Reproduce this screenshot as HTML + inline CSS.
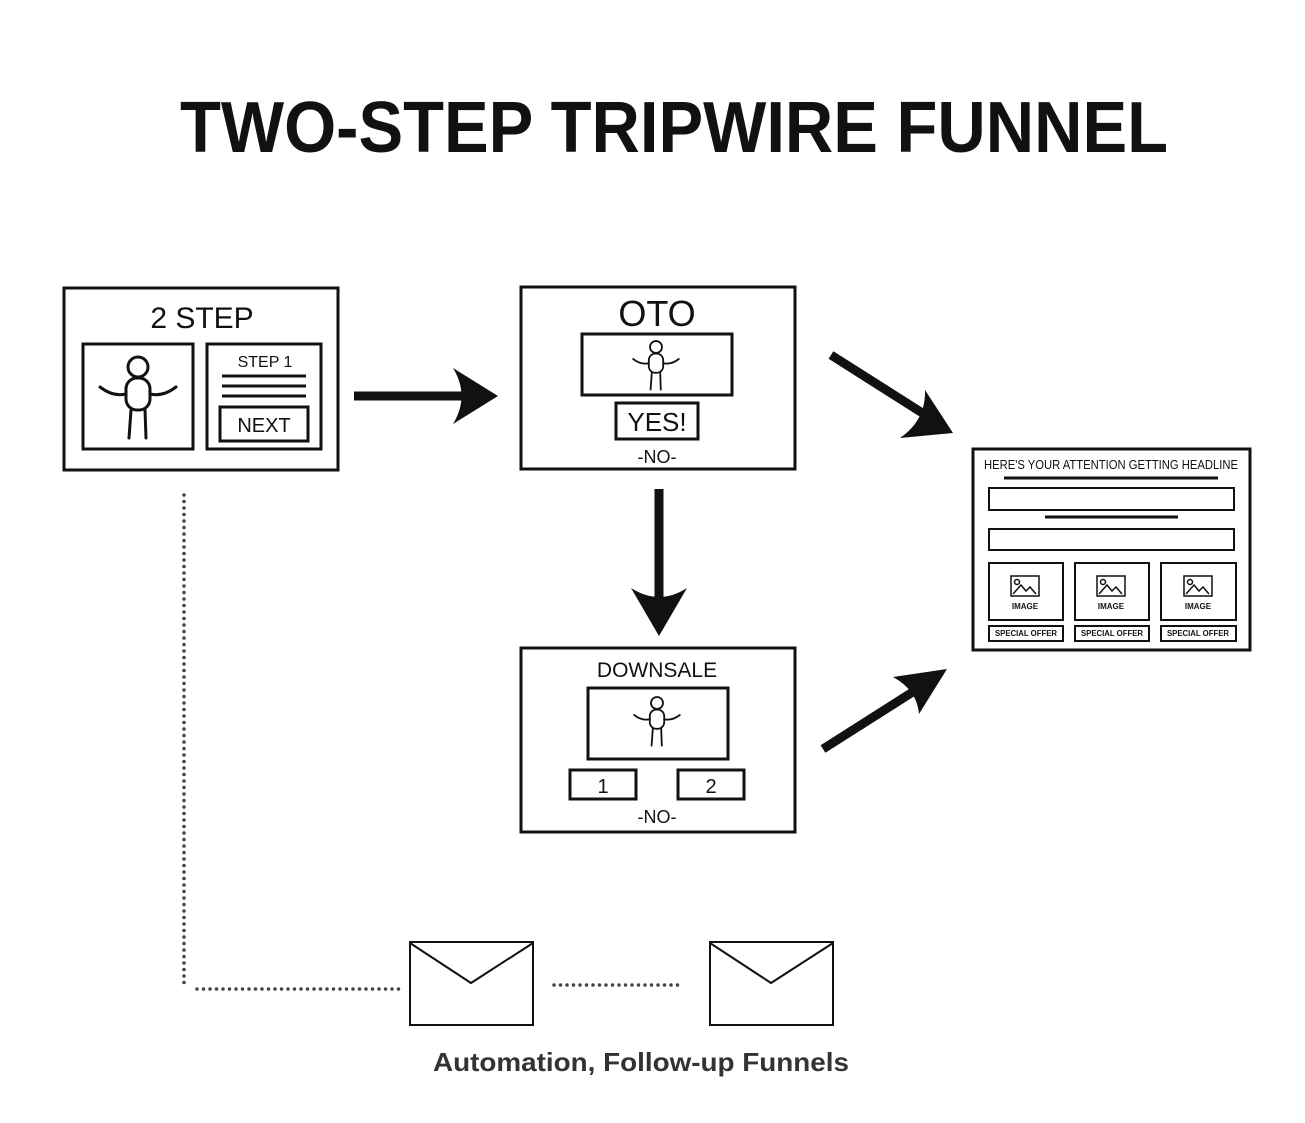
<!DOCTYPE html>
<html><head><meta charset="utf-8"><style>
html,body{margin:0;padding:0;background:#fff;}
svg{display:block;}
text{font-family:"Liberation Sans",sans-serif;fill:#111;}
</style></head><body>
<svg width="1305" height="1123" viewBox="0 0 1305 1123" xmlns="http://www.w3.org/2000/svg">
<defs>
<g id="p" fill="none" stroke="#111" stroke-width="3" stroke-linecap="round">
<circle cx="0" cy="0" r="10"/>
<rect x="-12" y="11" width="24" height="32" rx="11"/>
<path d="M-38,20 Q-25,30 -12,27 M12,27 Q25,30 38,20 M-7,43 L-9,71 M7,43 L8,71"/>
</g>
<g id="img" fill="none" stroke="#111" stroke-width="1.5">
<rect x="-14" y="-11" width="28" height="20"/>
<circle cx="-8" cy="-5" r="2.5"/>
<path d="M-12,7 L-4,-2 L1,4 L5,0 L11,7"/>
</g>
</defs>
<text x="674" y="152" text-anchor="middle" font-size="72" font-weight="bold" textLength="988" lengthAdjust="spacingAndGlyphs">TWO-STEP TRIPWIRE FUNNEL</text>

<g fill="none" stroke="#111" stroke-width="3">
<!-- box1 -->
<rect x="64" y="288" width="274" height="182"/>
<rect x="83" y="344" width="110" height="105"/>
<rect x="207" y="344" width="114" height="105"/>
<path d="M222,376 H306 M222,386 H306 M222,396 H306"/>
<rect x="220" y="407" width="88" height="34"/>
<!-- box2 -->
<rect x="521" y="287" width="274" height="182"/>
<rect x="582" y="334" width="150" height="61"/>
<rect x="616" y="403" width="82" height="36"/>
<!-- box3 -->
<rect x="521" y="648" width="274" height="184"/>
<rect x="588" y="688" width="140" height="71"/>
<rect x="570" y="770" width="66" height="29"/>
<rect x="678" y="770" width="66" height="29"/>
<!-- box4 -->
<rect x="973" y="449" width="277" height="201"/>
<path d="M1004,478 H1218 M1045,517 H1178"/>
<g stroke-width="2">
<rect x="989" y="488" width="245" height="22"/>
<rect x="989" y="529" width="245" height="21"/>
<rect x="989" y="563" width="74" height="57"/>
<rect x="1075" y="563" width="74" height="57"/>
<rect x="1161" y="563" width="75" height="57"/>
<rect x="989" y="626" width="74" height="15"/>
<rect x="1075" y="626" width="74" height="15"/>
<rect x="1161" y="626" width="75" height="15"/>
</g>
<!-- envelopes -->
<rect x="410" y="942" width="123" height="83" stroke-width="2"/>
<path d="M410,943 L471,983 L533,943" stroke-width="2"/>
<rect x="710" y="942" width="123" height="83" stroke-width="2"/>
<path d="M710,943 L771,983 L833,943" stroke-width="2"/>
</g>

<use href="#p" x="138" y="367"/>
<use href="#p" transform="translate(656,347) scale(0.6)"/>
<use href="#p" transform="translate(657,703) scale(0.6)"/>
<use href="#img" x="1025" y="587"/>
<use href="#img" x="1111" y="587"/>
<use href="#img" x="1198" y="587"/>

<!-- arrows -->
<g stroke="#111" stroke-width="9" fill="none">
<path d="M354,396 H478"/>
<path d="M659,489 V612"/>
<path d="M831,355 L935,421"/>
<path d="M823,749 L930,681"/>
</g>
<g fill="#111">
<path d="M498,396 L453,368 Q470,396 453,424 Z"/>
<path d="M659,636 L631,588 Q659,606 687,588 Z"/>
<path d="M953,433 L900,438 Q926,420 925,390 Z"/>
<path d="M947,669 L919,714 Q917,690 893,677 Z"/>
</g>

<!-- dotted -->
<g stroke="#444" stroke-width="3.5" stroke-linecap="round" stroke-dasharray="0 6.5" fill="none">
<path d="M184,495 V985"/>
<path d="M197,989 H403"/>
<path d="M554,985 H683"/>
</g>

<text x="202" y="328" text-anchor="middle" font-size="30">2 STEP</text>
<text x="265" y="367" text-anchor="middle" font-size="16">STEP 1</text>
<text x="264" y="432" text-anchor="middle" font-size="20">NEXT</text>
<text x="657" y="326" text-anchor="middle" font-size="36">OTO</text>
<text x="657" y="431" text-anchor="middle" font-size="26">YES!</text>
<text x="657" y="463" text-anchor="middle" font-size="18">-NO-</text>
<text x="657" y="677" text-anchor="middle" font-size="21">DOWNSALE</text>
<text x="603" y="793" text-anchor="middle" font-size="20">1</text>
<text x="711" y="793" text-anchor="middle" font-size="20">2</text>
<text x="657" y="823" text-anchor="middle" font-size="18">-NO-</text>
<text x="1111" y="469" text-anchor="middle" font-size="12.5" textLength="254" lengthAdjust="spacingAndGlyphs">HERE'S YOUR ATTENTION GETTING HEADLINE</text>
<g font-size="8" text-anchor="middle" font-weight="bold">
<text x="1025" y="609">IMAGE</text><text x="1111" y="609">IMAGE</text><text x="1198" y="609">IMAGE</text>
<text x="1026" y="636" textLength="62" lengthAdjust="spacingAndGlyphs">SPECIAL OFFER</text>
<text x="1112" y="636" textLength="62" lengthAdjust="spacingAndGlyphs">SPECIAL OFFER</text>
<text x="1198" y="636" textLength="62" lengthAdjust="spacingAndGlyphs">SPECIAL OFFER</text>
</g>
<text x="641" y="1071" text-anchor="middle" font-size="26" font-weight="bold" fill="#333" style="fill:#333" textLength="416" lengthAdjust="spacingAndGlyphs">Automation, Follow-up Funnels</text>
</svg>
</body></html>
